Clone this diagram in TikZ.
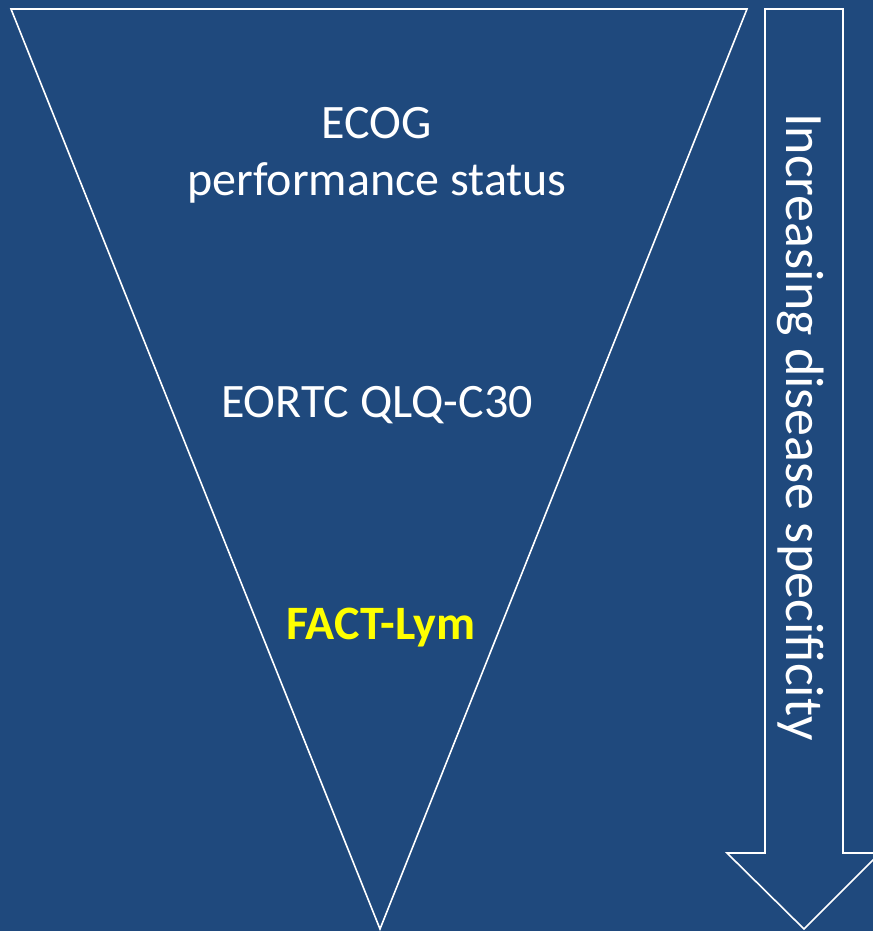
\documentclass[tikz,border=0pt]{standalone}
\usepackage{fontspec}
\setmainfont{Carlito}
\definecolor{bgblue}{HTML}{1F497D}
\definecolor{labelyellow}{HTML}{FFFF00}
\begin{document}
\begin{tikzpicture}[x=1pt,y=-1pt,
  outline/.style={draw=white,line width=1.6pt,line join=miter},
  lbl/.style={text=white,font=\fontsize{48}{57}\selectfont,align=center,inner sep=0pt}]
\fill[bgblue] (0,0) rectangle (873,931);
\useasboundingbox (0,0) rectangle (873,931);
% inverted triangle
\coordinate (tl) at (11,9);
\coordinate (tr) at (747,9);
\coordinate (tb) at (380,929);
\draw[outline] (tl) -- (tr) -- (tb) -- cycle;
% arrow
\draw[outline] (765,9) -- (843,9) -- (843,853) -- (880,853) -- (804,929) -- (727,853) -- (765,853) -- cycle;
% labels
\node[lbl] (ecog) at (377,155) {ECOG\\performance status};
\node[lbl] (eortc) at (377,405) {EORTC QLQ-C30};
\node[lbl,text=labelyellow,font=\fontsize{48}{57}\selectfont\bfseries] (fact) at (381,628) {FACT-Lym};
\node[lbl,rotate=-90,font=\fontsize{54}{60}\selectfont] (spec) at (801,427) {Increasing disease specificity};
\end{tikzpicture}
\end{document}
